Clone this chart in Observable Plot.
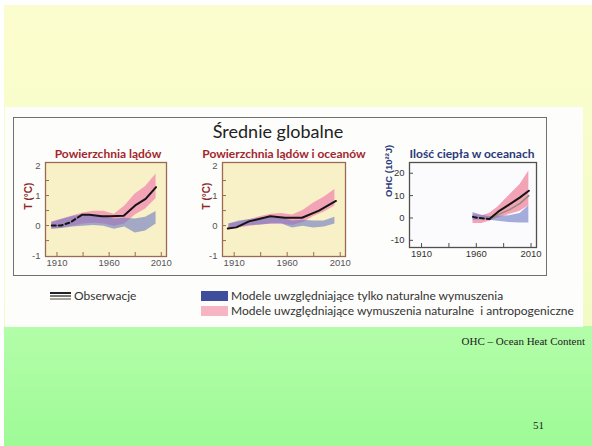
<!DOCTYPE html>
<html><head><meta charset="utf-8">
<script src="https://cdn.jsdelivr.net/npm/d3@7"></script>
<script src="https://cdn.jsdelivr.net/npm/@observablehq/plot@0.6"></script>
<style>
body{margin:0;background:#fff;}
#page{position:relative;width:592px;height:446px;overflow:hidden;background:#fff;font-family:Lato,"Open Sans",sans-serif;}
.abs{position:absolute;}
.ptitle{position:absolute;width:240px;text-align:center;font-size:12px;font-weight:bold;line-height:12px;white-space:nowrap;}
.leg{position:absolute;font-size:12px;line-height:12px;color:#333;white-space:pre;}
svg{position:absolute;}
</style></head><body>
<div id="page">
  <div class="abs" style="left:4px;top:5px;width:588px;height:321px;background:linear-gradient(#fcfdce,#f2fbc5)"></div>
  <div class="abs" style="left:4px;top:326px;width:588px;height:120px;background:linear-gradient(#b3fda9,#9efb96)"></div>
  <div class="abs" style="left:5px;top:107px;width:578px;height:220px;background:#fdfdfb"></div>
  <div class="abs" style="left:13px;top:117px;width:534px;height:159px;border:1.5px solid #707070;box-sizing:border-box"></div>
  <div class="abs" style="left:128px;top:121px;width:300px;text-align:center;font-size:18px;line-height:20px;color:#222;">Średnie globalne</div>
  <div class="ptitle" style="left:-12px;top:148px;color:#a3262c;">Powierzchnia lądów</div>
  <div class="ptitle" style="left:164px;top:148px;color:#a3262c;">Powierzchnia lądów i oceanów</div>
  <div class="ptitle" style="left:352px;top:148px;color:#2b3a7a;">Ilość ciepła w oceanach</div>
  <div class="abs" style="left:50px;top:292px;width:21px;height:2px;background:#222"></div>
  <div class="abs" style="left:50px;top:295px;width:21px;height:2px;background:#777"></div>
  <div class="abs" style="left:50px;top:298px;width:21px;height:2px;background:#a9a39a"></div>
  <div class="leg" style="left:74px;top:290px;">Obserwacje</div>
  <div class="abs" style="left:201px;top:291px;width:27px;height:10px;background:#3f4e9c"></div>
  <div class="abs" style="left:201px;top:306px;width:27px;height:10px;background:#f7b4c2"></div>
  <div class="leg" id="lg1" style="left:231px;top:290px;"></div>
  <div class="leg" id="lg2" style="left:231px;top:305px;"></div>
  <div class="abs" style="right:7px;top:335px;font-family:'Liberation Serif','Times New Roman',serif;font-size:11px;line-height:12px;color:#222;">OHC – Ocean Heat Content</div>
  <div class="abs" style="left:533px;top:419px;font-family:'Liberation Serif','Times New Roman',serif;font-size:11px;line-height:12px;color:#222;">51</div>
</div>
<script>
// ---------- data ----------
const legendLabels = ["Modele uwzględniające tylko naturalne wymuszenia", "Modele uwzględniające wymuszenia naturalne  i antropogeniczne"];
const xLabelTicks = [1910, 1960, 2010];
const xMinorTicks = [1910, 1935, 1960, 1985, 2010];
const tTicks = [-1, 0, 1, 2];
const tMinorTicks = [-0.5, 0, 0.5, 1, 1.5];
const ohcTicks = [-10, 0, 10, 20];

const bandYears = [1905, 1915, 1925, 1935, 1945, 1955, 1965, 1975, 1985, 1995, 2005];
// Panel 1: land surface
const landAllLo = [-0.12, -0.08, -0.02, 0.05, 0.08, 0.05, -0.02, 0.05, 0.35, 0.55, 0.90];
const landAllHi = [0.12, 0.22, 0.32, 0.42, 0.48, 0.48, 0.38, 0.65, 1.05, 1.30, 1.72];
const landNatLo = [-0.12, -0.10, -0.05, -0.02, 0.0, -0.02, -0.12, -0.05, -0.25, -0.18, 0.05];
const landNatHi = [0.10, 0.20, 0.30, 0.36, 0.34, 0.30, 0.22, 0.24, 0.22, 0.28, 0.47];
const landObsDashYears = [1905, 1914, 1923, 1934];
const landObsDash = [0.0, 0.0, 0.11, 0.36];
const landObsYears = [1934, 1941, 1953, 1961, 1974, 1985, 1995, 2005];
const landObs = [0.36, 0.36, 0.31, 0.31, 0.33, 0.67, 0.89, 1.28];
// Panel 2: land and ocean surface
const glAllLo = [-0.12, -0.08, -0.02, 0.02, 0.05, 0.05, 0.0, 0.10, 0.30, 0.45, 0.65];
const glAllHi = [0.05, 0.12, 0.20, 0.30, 0.38, 0.40, 0.35, 0.50, 0.75, 0.95, 1.20];
const glNatLo = [-0.10, -0.05, 0.0, 0.02, 0.05, 0.05, -0.08, -0.02, -0.08, -0.05, 0.05];
const glNatHi = [0.05, 0.15, 0.20, 0.25, 0.25, 0.25, 0.15, 0.18, 0.15, 0.15, 0.28];
const glObsYears = [1904, 1912, 1924, 1944, 1958, 1974, 1990, 2006];
const glObs = [-0.10, -0.06, 0.14, 0.31, 0.26, 0.26, 0.50, 0.82];
// Panel 3: ocean heat content
const ohcBandYears = [1957, 1965, 1972, 1980, 1990, 2000, 2008];
const ohcAllLo = [-2.5, -2.5, -1.5, 0.0, 1.5, 3.0, 5.5];
const ohcAllHi = [1.5, 1.0, 2.0, 5.0, 10.0, 15.0, 21.0];
const ohcNatLo = [-1.0, -0.8, -1.0, -1.5, -2.0, -2.2, -2.3];
const ohcNatHi = [2.5, 1.2, 0.5, 0.8, 1.0, 2.0, 5.5];
const ohcObsDashYears = [1957, 1962, 1967, 1972];
const ohcObsDash = [0.5, 0.0, -0.2, -0.5];
const ohcObsYears = [1972, 1980, 1990, 2000, 2008];
const ohcObs = [-0.5, 2.8, 6.0, 9.2, 12.2];
const ohcObs2 = [-0.5, 1.5, 3.6, 6.5, 10.0];

// ---------- build ----------
document.getElementById("lg1").textContent = legendLabels[0];
document.getElementById("lg2").textContent = legendLabels[1];

const PINK = "#f3a3b6", BLUE = "#6a78c4";
const zip = (xs, a, b) => xs.map((x, i) => ({x, lo: a[i], hi: b[i]}));
const pts = (xs, ys) => xs.map((x, i) => ({x, y: ys[i]}));

function panel(o) {
  const mL = 32, mT = 20, mR = 12, mB = 18;
  const W = o.boxW, H = o.boxH;
  const marks = [
    Plot.frame({fill: o.bg}),
    Plot.areaY(zip(o.bandX, o.allLo, o.allHi), {x: "x", y1: "lo", y2: "hi", fill: PINK}),
    Plot.areaY(zip(o.bandX, o.natLo, o.natHi), {x: "x", y1: "lo", y2: "hi", fill: BLUE, fillOpacity: 0.6}),
  ];
  for (const l of o.lines) {
    marks.push(Plot.line(pts(l.x, l.y), {x: "x", y: "y", stroke: l.color || "#151515", strokeWidth: l.w || 2, strokeDasharray: l.dash || null}));
  }
  marks.push(
    Plot.frame({stroke: o.border, strokeWidth: 1.3}),
    Plot.tickX(xMinorTicks, {x: d => d, insetTop: H - 4, stroke: o.border}),
    Plot.tickY(o.yMinor, {y: d => d, insetRight: W - 4, stroke: o.border}),
    Plot.text([o.yTitle], {frameAnchor: "left", text: d => d, rotate: -90, dx: o.titleDx, dy: o.titleDy || 0, fill: o.titleColor, fontWeight: "bold", fontSize: o.titleSize || 10})
  );
  const svg = Plot.plot({
    width: mL + W + mR, height: mT + H + mB,
    marginLeft: mL, marginTop: mT, marginRight: mR, marginBottom: mB,
    style: {background: "transparent", fontFamily: "'Liberation Sans', Arial, sans-serif", fontSize: "9.5px", color: o.tickColor || "#555", overflow: "visible"},
    x: {domain: [1899, 2015], ticks: xLabelTicks, tickFormat: d => String(d), tickSize: 0, tickPadding: 3, label: null},
    y: {domain: o.yDomain, ticks: o.yTicks, tickFormat: d => String(d), tickSize: 0, tickPadding: 5, label: null},
    marks
  });
  svg.style.left = (o.left - mL) + "px";
  svg.style.top = (o.top - mT) + "px";
  document.getElementById("page").appendChild(svg);
}

panel({left: 45, top: 162, boxW: 121, boxH: 94, yDomain: [-1.03, 2.1], yTicks: tTicks, yMinor: tMinorTicks,
  bg: "#f8f0c6", border: "#9c6a52", yTitle: "T (°C)", titleColor: "#8c2a2a", titleDx: -17,
  bandX: bandYears, allLo: landAllLo, allHi: landAllHi, natLo: landNatLo, natHi: landNatHi,
  lines: [{x: landObsDashYears, y: landObsDash, dash: "4,3"}, {x: landObsYears, y: landObs}]});

panel({left: 222, top: 162, boxW: 123, boxH: 94, yDomain: [-1.03, 2.1], yTicks: tTicks, yMinor: tMinorTicks,
  bg: "#f8f0c6", border: "#9c6a52", yTitle: "T (°C)", titleColor: "#8c2a2a", titleDx: -16,
  bandX: bandYears, allLo: glAllLo, allHi: glAllHi, natLo: glNatLo, natHi: glNatHi,
  lines: [{x: glObsYears, y: glObs}]});

panel({left: 409, top: 162, boxW: 127, boxH: 85, yDomain: [-13.2, 24.8], yTicks: ohcTicks, yMinor: ohcTicks,
  bg: "#fbfbfd", border: "#505050", yTitle: "OHC (10²²J)", titleColor: "#2b3a7a", titleDx: -21, titleDy: -8, titleSize: 9.5, tickColor: "#333",
  bandX: ohcBandYears, allLo: ohcAllLo, allHi: ohcAllHi, natLo: ohcNatLo, natHi: ohcNatHi,
  lines: [{x: ohcObsYears, y: ohcObs2, color: "#9a8a78", w: 1.5}, {x: ohcObsDashYears, y: ohcObsDash, dash: "4,3"}, {x: ohcObsYears, y: ohcObs}]});
</script>
</body></html>
